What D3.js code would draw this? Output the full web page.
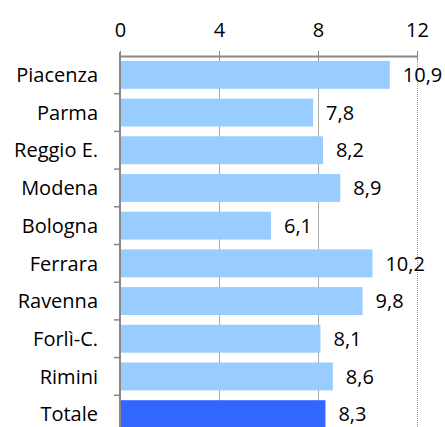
<!DOCTYPE html>
<html>
<head>
<meta charset="utf-8">
<script src="https://cdn.jsdelivr.net/npm/d3@7"></script>
<style>
  body { margin: 0; background: #fff; }
  svg { display: block; font-family: "Open Sans", sans-serif; }
</style>
</head>
<body>
<div id="chart"></div>
<script>
var categories = ["Piacenza", "Parma", "Reggio E.", "Modena", "Bologna", "Ferrara", "Ravenna", "Forlì-C.", "Rimini", "Totale"];
var values = [10.9, 7.8, 8.2, 8.9, 6.1, 10.2, 9.8, 8.1, 8.6, 8.3];
var tickValues = [0, 4, 8, 12];

var width = 445, height = 427;

var svg = d3.select("#chart")
    .append("svg")
    .attr("width", width)
    .attr("height", height);

var x = d3.scaleLinear()
    .domain([0, 12])
    .range([120, 417]);

var y = d3.scaleBand()
    .domain(categories)
    .range([56, 433])
    .paddingInner(0.26)
    .paddingOuter(0.13);

// vertical gridlines
svg.append("g")
    .selectAll("line")
    .data(tickValues.slice(1))
    .enter().append("line")
    .attr("x1", function(d) { return x(d) + 0.5; })
    .attr("x2", function(d) { return x(d) + 0.5; })
    .attr("y1", 56)
    .attr("y2", height)
    .attr("stroke", function(d) { return d === 12 ? "#999" : "#aaa"; })
    .attr("stroke-width", 1)
    .attr("stroke-dasharray", function(d) { return d === 12 ? "1,1" : null; });

// bars
svg.append("g")
    .selectAll("rect")
    .data(values)
    .enter().append("rect")
    .attr("x", x(0) + 1)
    .attr("y", function(d, i) { return y(categories[i]); })
    .attr("width", function(d) { return x(d) - x(0) - 1; })
    .attr("height", y.bandwidth())
    .attr("fill", function(d, i) { return categories[i] === "Totale" ? "#3366FF" : "#99CCFF"; });

// value labels
svg.append("g")
    .selectAll("text")
    .data(values)
    .enter().append("text")
    .attr("x", function(d) { return x(d) + 13; })
    .attr("y", function(d, i) { return y(categories[i]) + y.bandwidth() / 2; })
    .attr("dy", "0.36em")
    .attr("font-size", "20px")
    .attr("fill", "#000")
    .text(function(d) { return String(d).replace(".", ","); });

// top axis
var xAxis = svg.append("g")
    .attr("transform", "translate(0,56)")
    .call(d3.axisTop(x).tickValues(tickValues).tickSizeInner(5).tickSizeOuter(0).tickPadding(14));
xAxis.select(".domain").attr("stroke", "#888").attr("stroke-width", 2);
xAxis.selectAll(".tick line").attr("stroke", "#888").attr("y2", 4).attr("y1", -5);
xAxis.selectAll(".tick text").attr("font-size", "20px").attr("fill", "#000").attr("font-family", "Open Sans, sans-serif");

// left axis
var yAxis = svg.append("g")
    .attr("transform", "translate(120,0)");
yAxis.append("line")
    .attr("x1", 0).attr("x2", 0)
    .attr("y1", 52).attr("y2", height)
    .attr("stroke", "#888").attr("stroke-width", 2);
yAxis.selectAll("line.tk")
    .data(categories.slice(1))
    .enter().append("line")
    .attr("class", "tk")
    .attr("x1", -6).attr("x2", 0)
    .attr("y1", function(d) { return y(d) - y.step() * y.paddingInner() / 2; })
    .attr("y2", function(d) { return y(d) - y.step() * y.paddingInner() / 2; })
    .attr("stroke", "#888").attr("stroke-width", 1.5);
yAxis.selectAll("text")
    .data(categories)
    .enter().append("text")
    .attr("x", -22)
    .attr("y", function(d) { return y(d) + y.bandwidth() / 2; })
    .attr("dy", "0.36em")
    .attr("text-anchor", "end")
    .attr("font-size", "20px")
    .attr("fill", "#000")
    .text(function(d) { return d; });
</script>
</body>
</html>
